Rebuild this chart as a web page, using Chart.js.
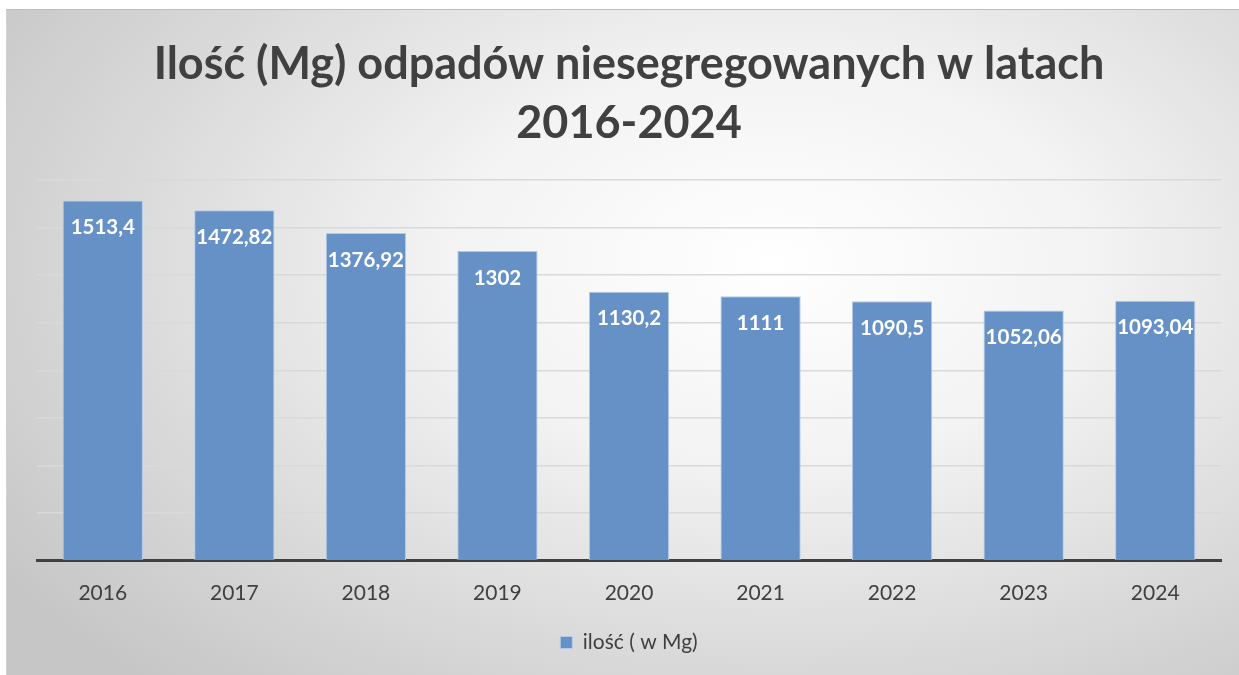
<!DOCTYPE html>
<html>
<head>
<meta charset="utf-8">
<script src="https://cdn.jsdelivr.net/npm/chart.js@4.4.1/dist/chart.umd.min.js"></script>
<style>
  body { margin: 0; background: #fff; }
  #frame {
    position: absolute; left: 6px; top: 9px; width: 1233px; height: 666px;
    border-top: 1px solid #bdbdbd; border-left: 1px solid #d0d0d0;
    box-sizing: border-box;
    background: radial-gradient(ellipse 75% 85% at 62% 38%, #ffffff 0%, #f3f3f3 35%, #dadada 70%, #c6c6c6 100%);
  }
</style>
</head>
<body>
<div id="frame"><canvas id="chart"></canvas></div>
<script>
const years = ["2016", "2017", "2018", "2019", "2020", "2021", "2022", "2023", "2024"];
const amounts = [1513.4, 1472.82, 1376.92, 1302, 1130.2, 1111, 1090.5, 1052.06, 1093.04];
const titleLines = ["Ilość (Mg) odpadów niesegregowanych w latach", "2016-2024"];
const seriesName = "ilość ( w Mg)";

const FONT = "Lato, 'Open Sans', sans-serif";

// etykiety wartości wewnątrz słupka (jak w Excelu)
const valueLabels = {
  id: "valueLabels",
  afterDatasetsDraw(chart) {
    const ctx = chart.ctx;
    const meta = chart.getDatasetMeta(0);
    ctx.save();
    ctx.font = "bold 20.5px " + FONT;
    ctx.fillStyle = "#ffffff";
    ctx.textAlign = "center";
    ctx.textBaseline = "middle";
    meta.data.forEach((bar, i) => {
      const txt = String(amounts[i]).replace(".", ",");
      ctx.fillText(txt, bar.x, bar.y + 27);
    });
    ctx.restore();
  }
};

new Chart(document.getElementById("chart"), {
  type: "bar",
  data: {
    labels: years,
    datasets: [{
      label: seriesName,
      data: amounts,
      backgroundColor: "#6591c7",
      borderColor: "#b3cae6",
      borderWidth: 1,
      barPercentage: 0.61,
      categoryPercentage: 1
    }]
  },
  options: {
    responsive: true,
    maintainAspectRatio: false,
    animation: false,
    layout: { padding: { left: 30, right: 18, top: 0, bottom: 12 } },
    plugins: {
      title: {
        display: true,
        text: titleLines,
        color: "#404040",
        font: { family: FONT, size: 45, weight: "bold", lineHeight: 1.333 },
        padding: { top: 24, bottom: 26 }
      },
      legend: {
        position: "bottom",
        labels: {
          color: "#404040",
          font: { family: FONT, size: 21 },
          boxWidth: 12,
          boxHeight: 12,
          padding: 14
        }
      },
      tooltip: { enabled: false }
    },
    scales: {
      x: {
        grid: { display: false },
        border: { display: true, color: "#404040", width: 3 },
        ticks: { color: "#404040", font: { family: FONT, size: 21 }, padding: 12 }
      },
      y: {
        min: 0,
        max: 1600,
        ticks: { display: false, stepSize: 200 },
        grid: { color: "#d9d9d9", lineWidth: 1.5, drawTicks: false },
        border: { display: false }
      }
    }
  },
  plugins: [valueLabels]
});
</script>
</body>
</html>
